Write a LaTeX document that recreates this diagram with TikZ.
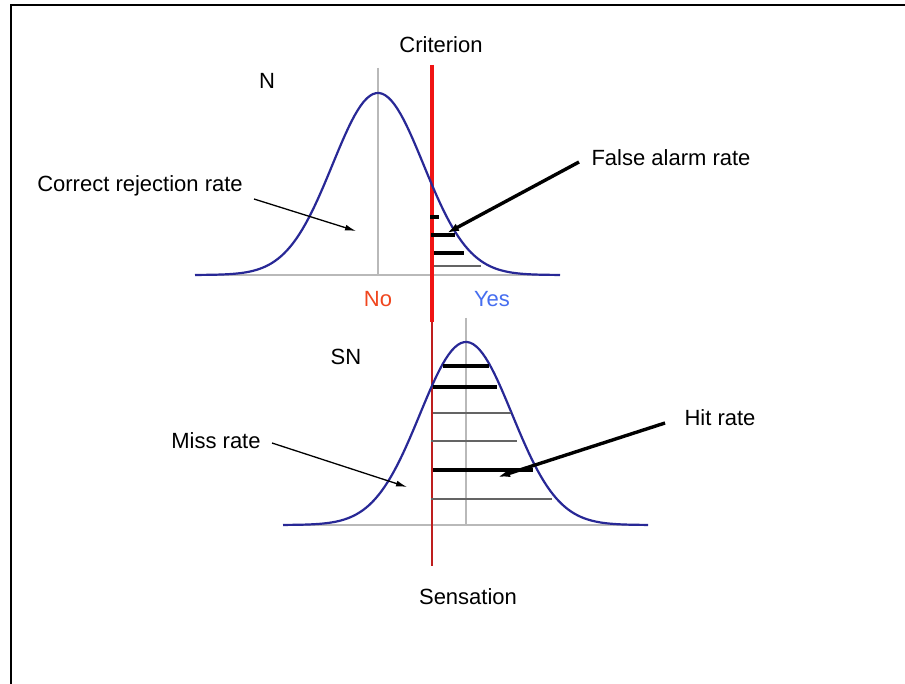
\documentclass[tikz,border=0pt]{standalone}
\usepackage{fontspec}
\setmainfont{Liberation Sans}
\usetikzlibrary{arrows.meta}
\definecolor{curveblue}{RGB}{40,40,150}
\definecolor{axisgray}{RGB}{185,185,185}
\definecolor{hatchgray}{RGB}{100,100,100}
\definecolor{critred}{RGB}{240,20,20}
\definecolor{critdark}{RGB}{190,30,30}
\definecolor{noorange}{RGB}{240,70,30}
\definecolor{yesblue}{RGB}{70,110,240}
\tikzset{
  lbl/.style={font=\fontsize{22}{25}\selectfont, inner sep=0pt, anchor=center},
  curve/.style={curveblue, line width=2.2pt, line join=round},
  axis/.style={axisgray, line width=2.2pt},
  thickhatch/.style={black, line width=3.6pt},
  thinhatch/.style={hatchgray, line width=1.3pt},
  thinarrow/.style={black, line width=1.3pt, -{Latex[length=11pt,width=6pt]}},
  fatarrow/.style={black, line width=3.4pt, -{Latex[length=12pt,width=8pt]}}
}
\begin{document}
\begin{tikzpicture}[x=1pt,y=-1pt]
\useasboundingbox (0,0) rectangle (905,684);
\fill[white] (0,0) rectangle (905,684);
% frame
\draw[line width=2.4pt] (11,684) -- (11,5) -- (905,5);

% N distribution
\draw[axis] (195,275) -- (560,275);
\draw[axis] (378,68) -- (378,275);

% SN distribution axes
\draw[axis] (283,525) -- (648,525);
\draw[axis] (466,318) -- (466,525);

% criterion line
\coordinate (crittop) at (432,65);
\coordinate (critmid) at (432,322);
\coordinate (critbot) at (432,566);
\draw[critred, line width=3.2pt] (crittop) -- (critmid);
\draw[critdark, line width=1.1pt] (critmid) -- (critbot);

% curves
\draw[curve] plot[domain=195:560, samples=120] (\x, {275-182*exp(-0.5*((\x-378)/45.5)^2)});
\draw[curve] plot[domain=283:648, samples=120] (\x, {525-183*exp(-0.5*((\x-466)/46)^2)});

% false alarm hatch
\draw[thickhatch] (430,217) -- (439,217);
\draw[thickhatch] (431,235) -- (455,235);
\draw[thickhatch] (434,253) -- (464,253);
\draw[thinhatch] (434,266) -- (481,266);

% hit hatch
\draw[thickhatch] (443,366) -- (489,366);
\draw[thickhatch] (433,387) -- (497,387);
\draw[thinhatch] (433,413) -- (511,413);
\draw[thinhatch] (431,441) -- (517,441);
\draw[thickhatch] (433,470) -- (533,470);
\draw[thinhatch] (431,499) -- (552,499);

% labels
\node[lbl] (criterion) at (441,45) {Criterion};
\node[lbl] (n) at (267,81) {N};
\node[lbl] (crr) at (140,186) {Correct rejection rate};
\node[lbl] (far) at (671,158) {False alarm rate};
\node[lbl, text=noorange] (no) at (378,299) {No};
\node[lbl, text=yesblue] (yes) at (492,299) {Yes};
\node[lbl] (sn) at (346,357) {SN};
\node[lbl] (miss) at (216,441) {Miss rate};
\node[lbl] (hit) at (720,418) {Hit rate};
\node[lbl] (sensation) at (468,597) {Sensation};

% arrows
\coordinate (crrS) at (254,199);
\coordinate (crrT) at (356,231);
\coordinate (farS) at (579,162);
\coordinate (farT) at (447,233);
\coordinate (missS) at (272,443);
\coordinate (missT) at (407,487);
\coordinate (hitS) at (665,423);
\coordinate (hitT) at (498,477);
\draw[thinarrow] (crrS) -- (crrT);
\draw[fatarrow] (farS) -- (farT);
\draw[thinarrow] (missS) -- (missT);
\draw[fatarrow] (hitS) -- (hitT);
\end{tikzpicture}
\end{document}
